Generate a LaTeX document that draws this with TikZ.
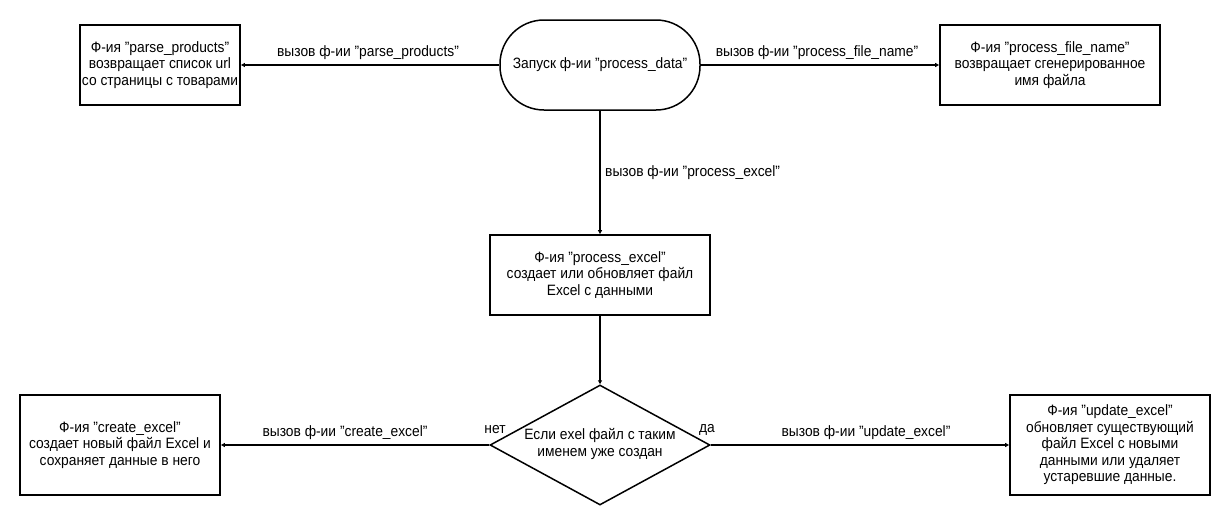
\documentclass[tikz,border=0pt]{standalone}
\usepackage{fontspec}
\setmainfont[FakeStretch=0.92]{Liberation Sans}
\usetikzlibrary{arrows.meta,shapes.geometric}
\begin{document}
\begin{tikzpicture}[x=1pt,y=-1pt,
  every node/.style={font=\fontsize{15}{16.5}\selectfont, inner sep=0pt},
  box/.style={draw, line width=1.8pt, align=center, minimum width=#1, minimum height=80pt},
  box/.default=160pt,
  term/.style={draw, line width=1.5pt, rounded corners=44pt, minimum width=200pt, minimum height=90pt},
  dia/.style={draw, diamond, line width=1.5pt, minimum width=220pt, minimum height=120pt},
  conn/.style={line width=1.3pt, -{Triangle[length=4pt,width=4pt]}}
]
\useasboundingbox (0,0) rectangle (1230,525);

\node[term] (t) at (600,65) {Запуск ф-ии "process\_data"};
\node[box] (b1) at (160,65) {Ф-ия "parse\_products"\\возвращает список url\\со страницы с товарами};
\node[box=220pt] (b2) at (1050,65) {Ф-ия "process\_file\_name"\\возвращает сгенерированное\\имя файла};
\node[box=220pt] (b3) at (600,275) {Ф-ия "process\_excel"\\создает или обновляет файл\\Excel с данными};
\node[dia] (d) at (600,445) {};
\node[align=center] (dt) at (600,444) {Если exel файл с таким\\именем уже создан};
\node[box=200pt, minimum height=100pt] (b4) at (120,445) {Ф-ия "create\_excel"\\создает новый файл Excel и\\сохраняет данные в него};
\node[box=200pt, minimum height=100pt] (b5) at (1110,445) {Ф-ия "update\_excel"\\обновляет существующий\\файл Excel с новыми\\данными или удаляет\\устаревшие данные.};

\draw[conn] (t.west) -- (b1.east);
\draw[conn] (t.east) -- (b2.west);
\draw[conn] (t.south) -- (b3.north);
\draw[conn] (b3.south) -- (d.north);
\draw[conn] (d.west) -- (b4.east);
\draw[conn] (d.east) -- (b5.west);

\node (l1) at (368,53) {вызов ф-ии "parse\_products"};
\node (l2) at (817,53) {вызов ф-ии "process\_file\_name"};
\node[anchor=west] (l3) at (605,173) {вызов ф-ии "process\_excel"};
\node (l4) at (345,433) {вызов ф-ии "create\_excel"};
\node (l5) at (866,433) {вызов ф-ии "update\_excel"};
\node (no) at (495,430) {нет};
\node (yes) at (707,430) {да};
\end{tikzpicture}
\end{document}
